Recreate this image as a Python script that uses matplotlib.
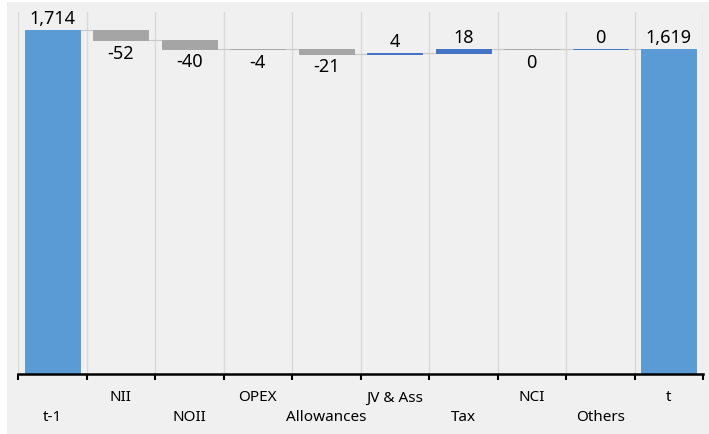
import matplotlib
matplotlib.use("Agg")
import matplotlib.pyplot as plt
from matplotlib.patches import Rectangle
from matplotlib.transforms import blended_transform_factory, offset_copy

categories = ['t-1', 'NII', 'NOII', 'OPEX', 'Allowances', 'JV & Ass', 'Tax', 'NCI', 'Others', 't']
values = [1714, -52, -40, -4, -21, 4, 18, -0.3, 0.3, 1619]
is_total = [True, False, False, False, False, False, False, False, False, True]

TOTAL_C = '#5b9bd5'
NEG_C = '#a5a5a5'
POS_C = '#4472c4'
BG = '#f0f0f0'

plt.rcParams['font.family'] = ['Noto Sans', 'DejaVu Sans']

fig = plt.figure(figsize=(7.09, 4.35), dpi=100, facecolor='white')
fig.patches.append(Rectangle((7 / 709, 0), 1 - 7 / 709, 1 - 3 / 435,
                             transform=fig.transFigure, facecolor=BG,
                             edgecolor='none', zorder=-10))
ax = fig.add_axes([18 / 709, 60 / 435, (703 - 18) / 709, (375 - 13) / 435])
ax.set_facecolor(BG)
ax.patch.set_alpha(0)

n = len(categories)
bottoms, heights, colors = [], [], []
level = 0
for v, tot in zip(values, is_total):
    if tot:
        bottoms.append(0)
        heights.append(v)
        colors.append(TOTAL_C)
        level = v
    else:
        if v >= 0:
            bottoms.append(level)
            heights.append(v)
            colors.append(POS_C)
        else:
            bottoms.append(level + v)
            heights.append(-v)
            colors.append(NEG_C)
        level += v

x = list(range(n))
w = 0.8
ax.bar(x, heights, bottom=bottoms, width=w, color=colors, edgecolor=colors,
       linewidth=0.7, zorder=3)

# connectors
level = 0
for i, (v, tot) in enumerate(zip(values, is_total)):
    level = v if tot else level + v
    if i < n - 1:
        ax.plot([i + w / 2, i + 1 - w / 2], [level, level], color='#c8c8c8',
                lw=0.8, zorder=2)

# value labels
for i, (v, tot) in enumerate(zip(values, is_total)):
    txt = f"{round(v):,}"
    if tot or v >= 0:
        y = bottoms[i] + heights[i]
        tr = offset_copy(ax.transData, fig=fig, x=0, y=2, units='points')
        ax.text(i, y, txt, ha='center', va='bottom', fontsize=13,
                color='black', transform=tr, zorder=5)
    else:
        y = bottoms[i]
        tr = offset_copy(ax.transData, fig=fig, x=0, y=-2.5, units='points')
        ax.text(i, y, txt, ha='center', va='top', fontsize=13,
                color='black', transform=tr, zorder=5)

ax.set_xlim(-0.5, n - 0.5)
ax.set_ylim(0, 1804)

for b in range(n + 1):
    ax.axvline(b - 0.5, color='#d9d9d9', lw=1.0, zorder=1)

ax.set_xticks([b - 0.5 for b in range(n + 1)])
ax.set_xticklabels([])
ax.tick_params(axis='x', direction='out', length=4, width=1.5, color='black')
ax.set_yticks([])
for s in ['top', 'left', 'right']:
    ax.spines[s].set_visible(False)
ax.spines['bottom'].set_linewidth(1.8)
ax.spines['bottom'].set_color('black')
ax.spines['bottom'].set_zorder(6)

btr = blended_transform_factory(ax.transData, ax.transAxes)
for i, c in enumerate(categories):
    dy = -23 if i % 2 == 1 else -43
    tr = offset_copy(btr, fig=fig, x=0, y=dy * 72 / 100, units='points')
    ax.text(i, 0, c, ha='center', va='center', fontsize=11,
            color='black', transform=tr)

fig.savefig('out.png', dpi=100, facecolor=fig.get_facecolor())
